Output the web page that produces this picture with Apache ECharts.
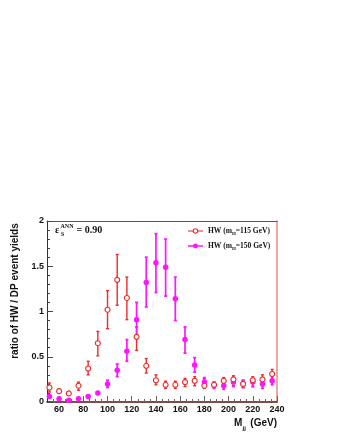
<!DOCTYPE html>
<html>
<head>
<meta charset="utf-8">
<script src="https://cdn.jsdelivr.net/npm/echarts@6/dist/echarts.min.js"></script>
<style>
  html, body { margin: 0; padding: 0; background: #fff; }
  #chart { width: 340px; height: 440px; }
</style>
</head>
<body>
<div id="chart"></div>
<script>
// M_jj bin centres (GeV)
const massBins = [52, 60, 68, 76, 84, 92, 100, 108, 116, 124, 132, 140,
                  148, 156, 164, 172, 180, 188, 196, 204, 212, 220, 228, 236];

// HW (mH = 115 GeV) ratio and error band
const hw115     = [0.16, 0.12, 0.095, 0.18, 0.37, 0.65, 1.02, 1.35, 1.15, 0.72, 0.40, 0.24,
                   0.19, 0.19, 0.22, 0.235, 0.18, 0.19, 0.235, 0.25, 0.20, 0.24, 0.25, 0.31];
const hw115Low  = [0.11, 0.10, 0.08, 0.13, 0.30, 0.51, 0.81, 1.07, 0.91, 0.57, 0.32, 0.19,
                   0.15, 0.15, 0.17, 0.18, 0.15, 0.16, 0.19, 0.18, 0.16, 0.17, 0.18, 0.22];
const hw115High = [0.21, 0.14, 0.11, 0.22, 0.45, 0.78, 1.23, 1.63, 1.38, 0.83, 0.48, 0.30,
                   0.23, 0.23, 0.26, 0.28, 0.26, 0.22, 0.27, 0.29, 0.24, 0.28, 0.30, 0.36];

// HW (mH = 150 GeV) ratio and error band
const hw150     = [0.06, 0.035, 0.02, 0.035, 0.06, 0.10, 0.20, 0.35, 0.56, 0.91, 1.32, 1.54,
                   1.49, 1.14, 0.69, 0.41, 0.22, 0.19, 0.18, 0.22, 0.20, 0.22, 0.20, 0.235];
const hw150Low  = [0.05, 0.03, 0.015, 0.03, 0.05, 0.09, 0.16, 0.28, 0.45, 0.74, 1.05, 1.21,
                   1.17, 0.90, 0.54, 0.33, 0.16, 0.15, 0.14, 0.17, 0.16, 0.17, 0.15, 0.19];
const hw150High = [0.07, 0.04, 0.025, 0.04, 0.07, 0.11, 0.24, 0.42, 0.69, 1.10, 1.60, 1.86,
                   1.80, 1.38, 0.83, 0.49, 0.27, 0.22, 0.22, 0.27, 0.24, 0.26, 0.25, 0.28];

// axis ticks
const xMajorTicks = [60, 80, 100, 120, 140, 160, 180, 200, 220, 240];
const xMinorTicks = [55, 65, 70, 75, 85, 90, 95, 105, 110, 115, 125, 130, 135, 145, 150, 155,
                     165, 170, 175, 185, 190, 195, 205, 210, 215, 225, 230, 235];

const RED = '#ee2a2a';
const MAGENTA = '#ff14ff';
const SANS = '"Liberation Sans", Arial, sans-serif';
const SERIF = '"Liberation Serif", "Times New Roman", serif';

// vertical error bars with small caps
function errorBars(name, color, width, low, high) {
    return {
        name: name,
        type: 'custom',
        silent: true,
        z: 2,
        renderItem: function (params, api) {
            const x = api.value(0);
            const top = api.coord([x, api.value(2)]);
            const bot = api.coord([x, api.value(1)]);
            const cap = 1.5;
            const style = { stroke: color, lineWidth: width };
            return {
                type: 'group',
                children: [
                    { type: 'line', shape: { x1: top[0], y1: top[1], x2: bot[0], y2: bot[1] }, style: style },
                    { type: 'line', shape: { x1: top[0] - cap, y1: top[1], x2: top[0] + cap, y2: top[1] }, style: style },
                    { type: 'line', shape: { x1: bot[0] - cap, y1: bot[1], x2: bot[0] + cap, y2: bot[1] }, style: style }
                ]
            };
        },
        encode: { x: 0, y: [1, 2] },
        data: massBins.map((m, i) => [m, low[i], high[i]])
    };
}

let myChart = echarts.init(document.getElementById('chart'), null, { renderer: 'canvas' });

let option = {
    animation: false,
    backgroundColor: '#fff',
    grid: { left: 47, top: 221, right: 63, bottom: 38 },
    xAxis: [
        {
            type: 'value', min: 50, max: 240, position: 'bottom',
            axisLine: { show: true, lineStyle: { color: '#5a1010', width: 1.5 } },
            axisTick: { show: true, inside: true, length: 6, customValues: xMajorTicks,
                        lineStyle: { color: '#666' } },
            axisLabel: { customValues: xMajorTicks, margin: 3, color: '#111',
                         fontWeight: 'bold', fontSize: 9, fontFamily: SANS },
            splitLine: { show: false }
        },
        {
            type: 'value', min: 50, max: 240, position: 'bottom',
            axisLine: { show: false },
            axisTick: { show: true, inside: true, length: 3, customValues: xMinorTicks,
                        lineStyle: { color: '#666' } },
            axisLabel: { show: false },
            splitLine: { show: false }
        },
        {
            type: 'value', min: 50, max: 240, position: 'top',
            axisLine: { show: true, lineStyle: { color: '#555', width: 1 } },
            axisTick: { show: false }, axisLabel: { show: false }, splitLine: { show: false }
        }
    ],
    yAxis: [
        {
            type: 'value', min: 0, max: 2, interval: 0.5, position: 'left',
            axisLine: { show: true, lineStyle: { color: '#333', width: 1 } },
            axisTick: { show: true, inside: true, length: 6, lineStyle: { color: '#444' } },
            minorTick: { show: true, splitNumber: 5, length: 3, lineStyle: { color: '#444' } },
            axisLabel: { margin: 3, color: '#111', fontWeight: 'bold', fontSize: 9, fontFamily: SANS },
            splitLine: { show: false }
        },
        {
            type: 'value', min: 0, max: 2, position: 'right',
            axisLine: { show: true, lineStyle: { color: '#e98a8a', width: 1.5 } },
            axisTick: { show: false }, axisLabel: { show: false }, splitLine: { show: false }
        }
    ],
    series: [
        errorBars('err115', RED, 1.4, hw115Low, hw115High),
        errorBars('err150', MAGENTA, 1.7, hw150Low, hw150High),
        {
            name: 'HW (mH=150 GeV)', type: 'scatter', z: 3,
            symbol: 'circle', symbolSize: 5.5,
            itemStyle: { color: MAGENTA, opacity: 1 },
            data: massBins.map((m, i) => [m, hw150[i]])
        },
        {
            name: 'HW (mH=115 GeV)', type: 'scatter', z: 4,
            symbol: 'circle', symbolSize: 5,
            itemStyle: { color: '#fff', borderColor: RED, borderWidth: 1.1, opacity: 1 },
            data: massBins.map((m, i) => [m, hw115[i]])
        }
    ],
    graphic: [
        // y axis title
        { type: 'text', x: 15, y: 291, rotation: Math.PI / 2,
          style: { text: 'ratio of HW / DP event yields', font: 'bold 10px ' + SANS, fill: '#111',
                   align: 'center', verticalAlign: 'middle' } },
        // x axis title
        { type: 'text', x: 234, y: 423,
          style: { text: 'M', font: 'bold 10px ' + SANS, fill: '#111', align: 'left', verticalAlign: 'middle' } },
        { type: 'text', x: 242.5, y: 428,
          style: { text: 'jj', font: 'bold 6px ' + SANS, fill: '#111', align: 'left', verticalAlign: 'middle' } },
        { type: 'text', x: 277, y: 423,
          style: { text: '(GeV)', font: 'bold 10px ' + SANS, fill: '#111', align: 'right', verticalAlign: 'middle' } },
        // efficiency label
        { type: 'text', x: 55, y: 230,
          style: { text: 'ε', font: 'bold 10px ' + SERIF, fill: '#111', align: 'left', verticalAlign: 'middle' } },
        { type: 'text', x: 60.5, y: 226.5,
          style: { text: 'ANN', font: 'bold 6px ' + SERIF, fill: '#111', align: 'left', verticalAlign: 'middle' } },
        { type: 'text', x: 61, y: 234,
          style: { text: 'S', font: 'bold 6px ' + SERIF, fill: '#111', align: 'left', verticalAlign: 'middle' } },
        { type: 'text', x: 74, y: 230,
          style: { text: ' = 0.90', font: 'bold 10px ' + SERIF, fill: '#111', align: 'left', verticalAlign: 'middle' } },
        // legend
        { type: 'line', shape: { x1: 188, y1: 231, x2: 203, y2: 231 }, style: { stroke: '#f26a6a', lineWidth: 1.5 } },
        { type: 'circle', shape: { cx: 195.5, cy: 231, r: 2.2 }, style: { fill: '#fff', stroke: RED, lineWidth: 1.1 } },
        { type: 'line', shape: { x1: 188, y1: 246, x2: 203, y2: 246 }, style: { stroke: MAGENTA, lineWidth: 1.5 } },
        { type: 'circle', shape: { cx: 195.5, cy: 246, r: 2.4 }, style: { fill: MAGENTA } },
        { type: 'text', x: 208, y: 231,
          style: { text: '{b|HW (m}{s|H}{b|=115 GeV)}', fill: '#111', verticalAlign: 'middle',
                   rich: { b: { font: 'bold 7.5px ' + SERIF, lineHeight: 10, verticalAlign: 'middle' },
                           s: { font: 'bold 5px ' + SERIF, lineHeight: 5, verticalAlign: 'bottom' } } } },
        { type: 'text', x: 208, y: 246,
          style: { text: '{b|HW (m}{s|H}{b|=150 GeV)}', fill: '#111', verticalAlign: 'middle',
                   rich: { b: { font: 'bold 7.5px ' + SERIF, lineHeight: 10, verticalAlign: 'middle' },
                           s: { font: 'bold 5px ' + SERIF, lineHeight: 5, verticalAlign: 'bottom' } } } }
    ]
};
option && myChart.setOption(option);
</script>
</body>
</html>
